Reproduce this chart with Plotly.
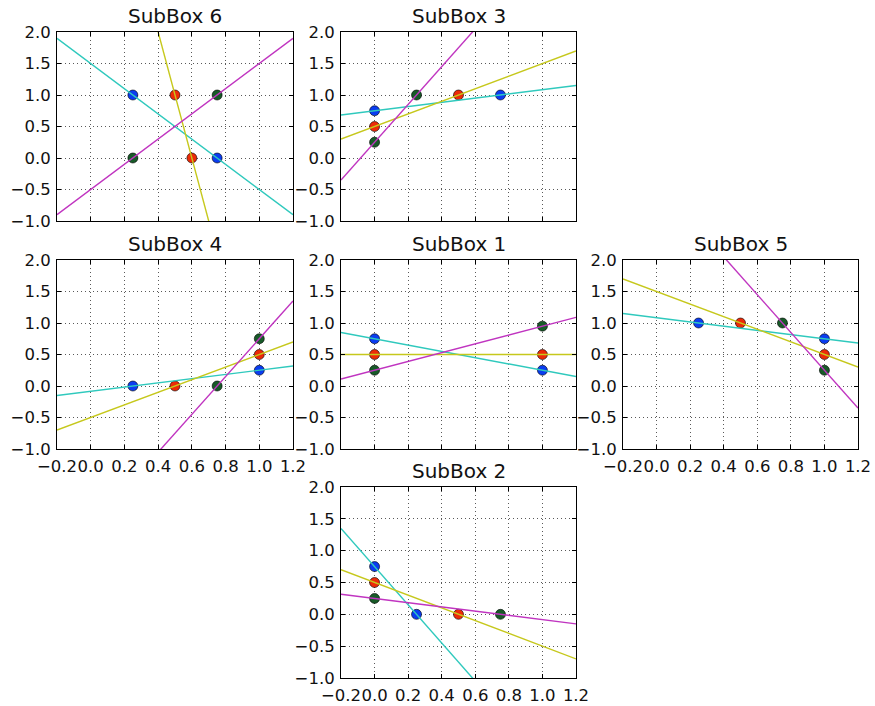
import numpy as np
import plotly.graph_objects as go

# ---------------- data ----------------
box_titles = ["SubBox 6", "SubBox 3", "SubBox 4", "SubBox 1", "SubBox 5", "SubBox 2"]

# point pairs for each sub box (blue / red / green)
sub6_blue_x, sub6_blue_y = [0.25, 0.75], [1.0, 0.0]
sub6_red_x, sub6_red_y = [0.5, 0.6], [1.0, 0.0]
sub6_green_x, sub6_green_y = [0.25, 0.75], [0.0, 1.0]

sub3_blue_x, sub3_blue_y = [0.0, 0.75], [0.75, 1.0]
sub3_red_x, sub3_red_y = [0.0, 0.5], [0.5, 1.0]
sub3_green_x, sub3_green_y = [0.0, 0.25], [0.25, 1.0]

sub4_blue_x, sub4_blue_y = [0.25, 1.0], [0.0, 0.25]
sub4_red_x, sub4_red_y = [0.5, 1.0], [0.0, 0.5]
sub4_green_x, sub4_green_y = [0.75, 1.0], [0.0, 0.75]

sub1_blue_x, sub1_blue_y = [0.0, 1.0], [0.75, 0.25]
sub1_red_x, sub1_red_y = [0.0, 1.0], [0.5, 0.5]
sub1_green_x, sub1_green_y = [0.0, 1.0], [0.25, 0.95]

sub5_blue_x, sub5_blue_y = [0.25, 1.0], [1.0, 0.75]
sub5_red_x, sub5_red_y = [0.5, 1.0], [1.0, 0.5]
sub5_green_x, sub5_green_y = [0.75, 1.0], [1.0, 0.25]

sub2_blue_x, sub2_blue_y = [0.0, 0.25], [0.75, 0.0]
sub2_red_x, sub2_red_y = [0.0, 0.5], [0.5, 0.0]
sub2_green_x, sub2_green_y = [0.0, 0.75], [0.25, 0.0]

x_ticks = [-0.2, 0.0, 0.2, 0.4, 0.6, 0.8, 1.0, 1.2]
x_tick_labels = ["\u22120.2", "0.0", "0.2", "0.4", "0.6", "0.8", "1.0", "1.2"]
y_ticks = [-1.0, -0.5, 0.0, 0.5, 1.0, 1.5, 2.0]
y_tick_labels = ["\u22121.0", "\u22120.5", "0.0", "0.5", "1.0", "1.5", "2.0"]

boxes = [
    (sub6_blue_x, sub6_blue_y, sub6_red_x, sub6_red_y, sub6_green_x, sub6_green_y),
    (sub3_blue_x, sub3_blue_y, sub3_red_x, sub3_red_y, sub3_green_x, sub3_green_y),
    (sub4_blue_x, sub4_blue_y, sub4_red_x, sub4_red_y, sub4_green_x, sub4_green_y),
    (sub1_blue_x, sub1_blue_y, sub1_red_x, sub1_red_y, sub1_green_x, sub1_green_y),
    (sub5_blue_x, sub5_blue_y, sub5_red_x, sub5_red_y, sub5_green_x, sub5_green_y),
    (sub2_blue_x, sub2_blue_y, sub2_red_x, sub2_red_y, sub2_green_x, sub2_green_y),
]

# ---------------- layout geometry ----------------
W, H = 875, 706
col_px = [(57, 293), (341, 576), (623, 858)]
row_px = [(32, 221), (260, 449), (487, 678)]
# (row, col) for each box, and whether x tick labels are shown
placement = [(0, 0, False), (0, 1, False), (1, 0, True), (1, 1, False), (1, 2, True), (2, 1, True)]

marker_colors = ["#0a3cf0", "#ec2a08", "#175a28"]
line_colors = ["#2fc9bd", "#c6c81c", "#c034c0"]

FONT = "DejaVu Sans"
fig = go.Figure()
annotations = []
x_range = [-0.2, 1.2]

for i, (title, data, (r, c, show_x)) in enumerate(zip(box_titles, boxes, placement)):
    k = "" if i == 0 else str(i + 1)
    xa, ya = "x" + k, "y" + k
    pairs = [(data[0], data[1]), (data[2], data[3]), (data[4], data[5])]
    # markers first
    for (px, py), mc in zip(pairs, marker_colors):
        fig.add_trace(go.Scatter(x=px, y=py, mode="markers", xaxis=xa, yaxis=ya,
                                 marker=dict(size=10, color=mc, line=dict(color="black", width=0.6)),
                                 showlegend=False, hoverinfo="skip"))
    # fitted lines across the x range, on top
    for (px, py), lc in zip(pairs, line_colors):
        slope, icpt = np.polyfit(px, py, 1)
        lx = np.array(x_range)
        fig.add_trace(go.Scatter(x=lx, y=slope * lx + icpt, mode="lines", xaxis=xa, yaxis=ya,
                                 line=dict(color=lc, width=1.4),
                                 showlegend=False, hoverinfo="skip"))

    x0, x1 = col_px[c]
    y0, y1 = row_px[r]
    common = dict(showline=True, linecolor="black", linewidth=1, mirror="ticks",
                  ticks="inside", ticklen=4, tickcolor="black", tickwidth=1,
                  showgrid=True, gridcolor="rgba(0,0,0,0.65)", gridwidth=0.8, griddash="1px,3px",
                  zeroline=False, tickfont=dict(family=FONT, size=16.5, color="#111111"),
                  fixedrange=True, automargin=False, ticklabelstandoff=2)
    fig.layout["xaxis" + k] = dict(common, domain=[x0 / W, x1 / W], range=x_range,
                                   anchor=ya, tickvals=x_ticks, ticktext=x_tick_labels,
                                   showticklabels=show_x, tickangle=0)
    fig.layout["yaxis" + k] = dict(common, domain=[1 - y1 / H, 1 - y0 / H], range=[-1, 2],
                                   anchor=xa, tickvals=y_ticks, ticktext=y_tick_labels)
    annotations.append(dict(text=title, x=(x0 + x1) / 2 / W, y=1 - y0 / H, xref="paper", yref="paper",
                            xanchor="center", yanchor="bottom", yshift=2, showarrow=False,
                            font=dict(family=FONT, size=20, color="#111111")))

fig.update_layout(width=W, height=H, margin=dict(l=0, r=0, t=0, b=0),
                  paper_bgcolor="white", plot_bgcolor="white", annotations=annotations)

fig.write_html("out.html", config={"displayModeBar": False},
               post_script="document.body.style.margin='0';document.body.style.overflow='hidden';")
